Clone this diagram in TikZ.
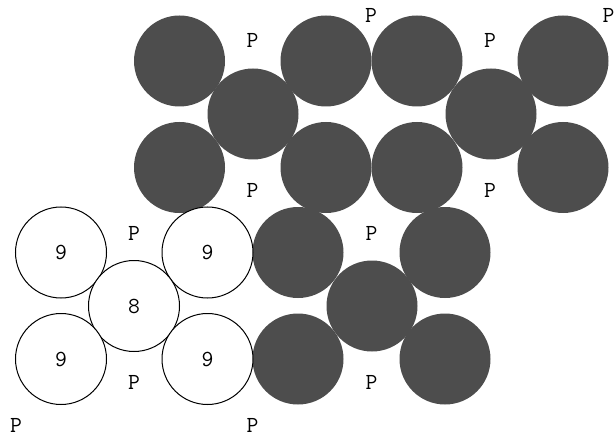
\documentclass[tikz,border=0pt]{standalone}
\usetikzlibrary{calc}
\definecolor{ballgray}{RGB}{77,77,77}
\tikzset{
  dark/.style={fill=ballgray,draw=none},
  light/.style={fill=white,draw=black,line width=1pt},
  lbl/.style={font=\ttfamily\fontsize{23}{23}\selectfont,inner sep=0pt}
}
\begin{document}
\begin{tikzpicture}[x=1pt,y=-1pt]
\useasboundingbox (0,0) rectangle (616,441);
% top block
\coordinate (A1) at (179.5,61);
\coordinate (A2) at (326,61);
\coordinate (A3) at (417,61);
\coordinate (A4) at (563,61);
\coordinate (B1) at (253,114);
\coordinate (B2) at (491,114);
\coordinate (C1) at (179.5,167.5);
\coordinate (C2) at (326,167.5);
\coordinate (C3) at (417,167.5);
\coordinate (C4) at (563,167.5);
% lower left block (white)
\coordinate (W1) at (61,252.5);
\coordinate (W2) at (207.5,252.5);
\coordinate (W3) at (134,306);
\coordinate (W4) at (61,359);
\coordinate (W5) at (207.5,359);
% lower right block
\coordinate (D1) at (298,252.5);
\coordinate (D2) at (445,252.5);
\coordinate (D3) at (372,306);
\coordinate (D4) at (298,359);
\coordinate (D5) at (445,359);
\foreach \c in {A1,A2,A3,A4,B1,B2,C1,C2,C3,C4,D1,D2,D3,D4,D5}
  \fill[dark] (\c) circle [radius=45.5];
\foreach \c in {W1,W2,W3,W4,W5}
  \draw[light] (\c) circle [radius=45.5];
\node[lbl] (n1) at (W1) {9};
\node[lbl] (n2) at (W2) {9};
\node[lbl] (n3) at (W3) {8};
\node[lbl] (n4) at (W4) {9};
\node[lbl] (n5) at (W5) {9};
% P labels
\node[lbl] (p1) at (252.5,40) {P};
\node[lbl] (p2) at (371,15) {P};
\node[lbl] (p3) at (490,40) {P};
\node[lbl] (p4) at (608.5,15) {P};
\node[lbl] (p5) at (252.5,190) {P};
\node[lbl] (p6) at (490,190) {P};
\node[lbl] (p7) at (134,233) {P};
\node[lbl] (p8) at (134,382) {P};
\node[lbl] (p9) at (371.5,233) {P};
\node[lbl] (p10) at (371.5,382) {P};
\node[lbl] (p11) at (16,425) {P};
\node[lbl] (p12) at (252.5,425) {P};
\end{tikzpicture}
\end{document}
